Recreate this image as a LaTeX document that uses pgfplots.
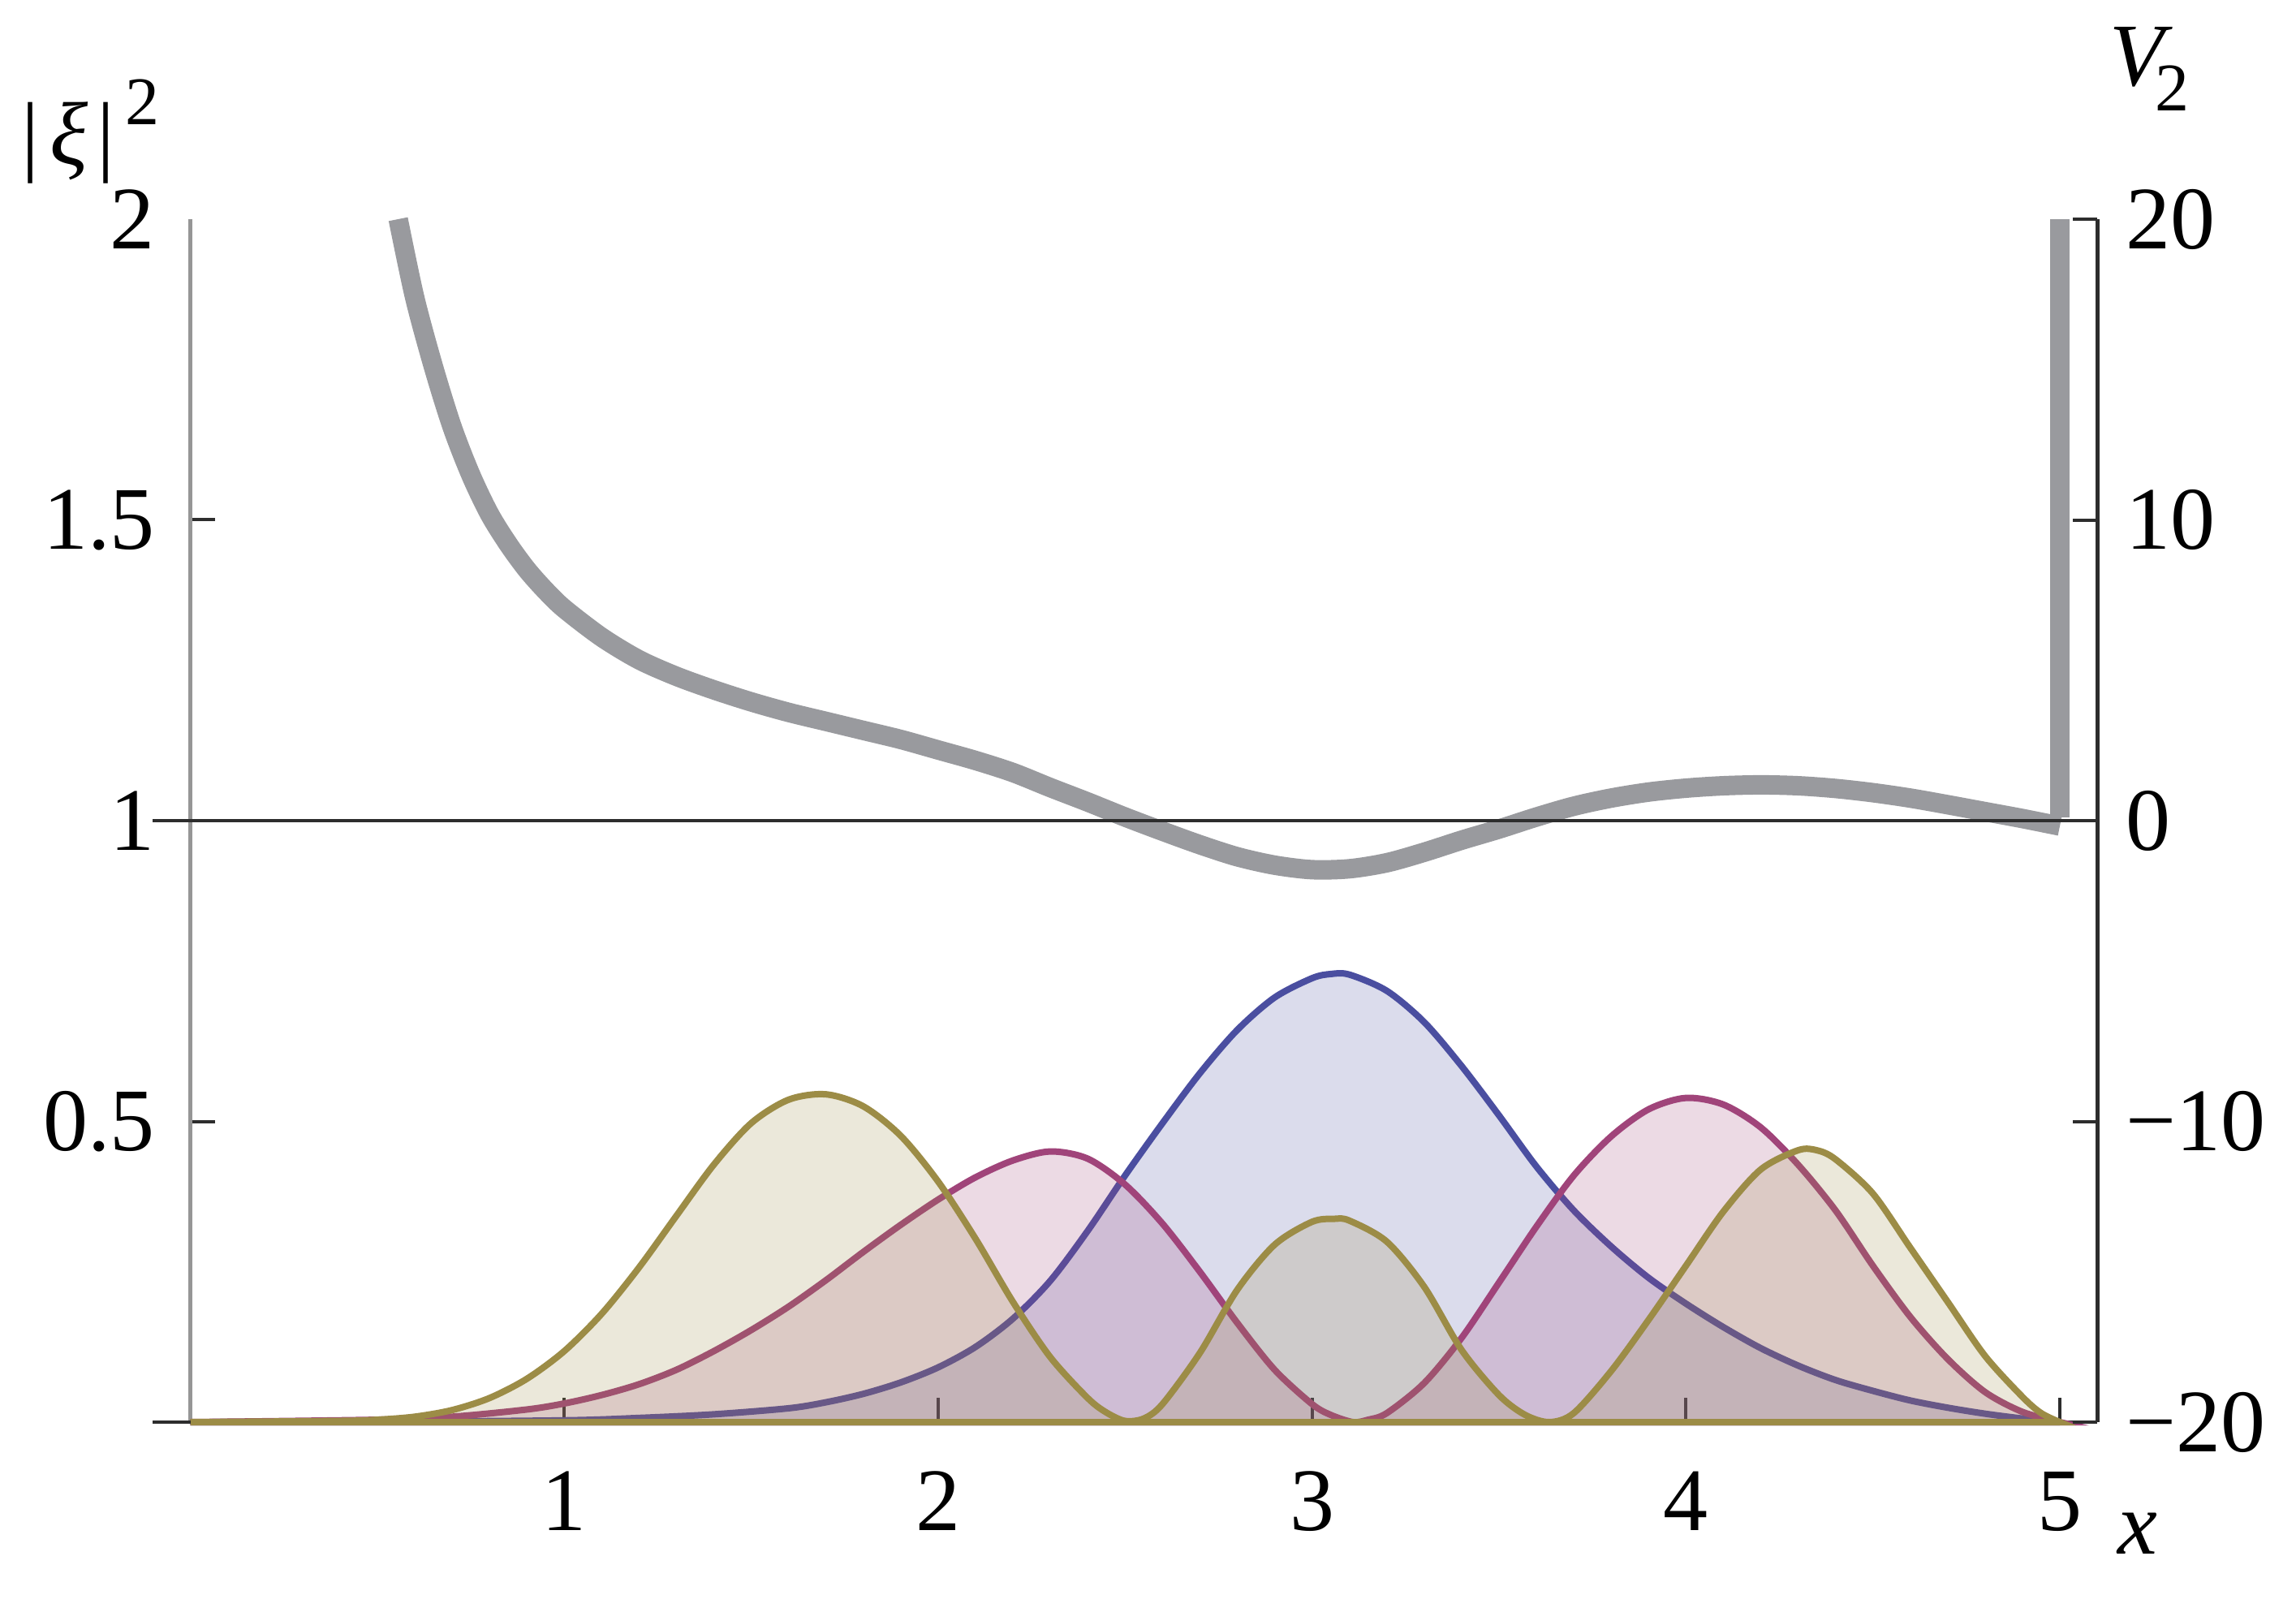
\documentclass[border=0pt]{standalone}
\usepackage{fontspec}
\setmainfont{Liberation Serif}
\usepackage{pgfplots}
\pgfplotsset{compat=1.18}

\definecolor{cblue}{RGB}{74,78,160}
\definecolor{cpink}{RGB}{160,68,122}
\definecolor{colive}{RGB}{156,140,70}
\definecolor{cpot}{RGB}{153,154,158}
\definecolor{caxis}{RGB}{45,45,45}
\definecolor{cleft}{RGB}{150,150,150}

\newcommand{\fs}{\fontsize{11}{13}\selectfont}

\begin{document}
\begin{tikzpicture}
\useasboundingbox (-23.45pt,-22.8pt) rectangle (259.45pt,175.2pt);

% left axis: densities |xi|^2
\begin{axis}[
  scale only axis, width=234.96pt, height=148.2pt,
  at={(0pt,0pt)}, anchor=south west,
  xmin=0, xmax=5.1, ymin=0, ymax=2,
  axis x line=bottom, axis y line=left,
  x axis line style={-, caxis, line width=0.45pt},
  y axis line style={-, cleft, line width=0.5pt},
  tick align=inside, major tick length=3pt,
  tick style={caxis, line width=0.4pt},
  xtick={1,2,3,4,5}, xticklabels={1,2,3,4,5},
  ytick={0.5,1,1.5}, yticklabels={0.5,1,1.5},
  extra y ticks={2}, extra y tick labels={2},
  extra y tick style={major tick length=0pt},
  tick label style={font=\fs},
  xticklabel style={anchor=base, inner sep=0pt, yshift=-13.3pt},
  yticklabel style={anchor=east, inner sep=0pt, xshift=-4.2pt},
  clip=false,
]
% ground state
\addplot[draw=cblue, fill=cblue, fill opacity=0.2, line width=0.8pt, smooth] coordinates {
  (0,0) (0.5,0.0005) (1.0,0.003) (1.2,0.007) (1.4,0.013) (1.6,0.023)
  (1.7,0.033) (1.8,0.047) (1.9,0.066) (2.0,0.091) (2.1,0.125) (2.2,0.172)
  (2.3,0.235) (2.4,0.318) (2.5,0.41) (2.6,0.497) (2.7,0.58) (2.8,0.652)
  (2.9,0.706) (3.0,0.738) (3.05,0.745) (3.1,0.744) (3.2,0.717) (3.3,0.665)
  (3.4,0.592) (3.5,0.51) (3.6,0.425) (3.7,0.352) (3.8,0.292) (3.9,0.24)
  (4.0,0.197) (4.1,0.158) (4.2,0.123) (4.3,0.094) (4.4,0.07) (4.5,0.052)
  (4.6,0.036) (4.7,0.024) (4.8,0.014) (4.9,0.006) (5.0,0)
} \closedcycle;
% first excited state
\addplot[draw=cpink, fill=cpink, fill opacity=0.2, line width=0.8pt, smooth] coordinates {
  (0,0) (0.5,0.004) (0.7,0.009) (0.9,0.021) (1.0,0.031) (1.1,0.045)
  (1.2,0.063) (1.3,0.087) (1.4,0.118) (1.5,0.153) (1.6,0.192) (1.7,0.236)
  (1.8,0.283) (1.9,0.328) (2.0,0.37) (2.1,0.407) (2.2,0.435) (2.3,0.45)
  (2.4,0.438) (2.5,0.395) (2.6,0.33) (2.7,0.25) (2.8,0.165) (2.9,0.087)
  (3.0,0.03) (3.05,0.012) (3.11,0) (3.15,0.004) (3.2,0.015) (3.3,0.065)
  (3.4,0.14) (3.5,0.232) (3.6,0.325) (3.7,0.41) (3.8,0.475) (3.9,0.52)
  (4.0,0.539) (4.1,0.528) (4.2,0.49) (4.3,0.428) (4.4,0.352) (4.5,0.26)
  (4.6,0.175) (4.7,0.105) (4.8,0.05) (4.9,0.017) (5.0,0)
} \closedcycle;
% second excited state
\addplot[draw=colive, fill=colive, fill opacity=0.2, line width=0.8pt, smooth] coordinates {
  (0,0) (0.4,0.002) (0.5,0.004) (0.6,0.009) (0.7,0.02) (0.8,0.04)
  (0.9,0.072) (1.0,0.118) (1.1,0.18) (1.2,0.257) (1.3,0.343) (1.4,0.428)
  (1.5,0.497) (1.6,0.536) (1.7,0.545) (1.8,0.525) (1.9,0.476) (2.0,0.4)
  (2.1,0.305) (2.2,0.2) (2.3,0.108) (2.4,0.04) (2.45,0.016) (2.5,0.002)
  (2.55,0.006) (2.6,0.03) (2.7,0.115) (2.8,0.22) (2.9,0.295) (3.0,0.333)
  (3.06,0.338) (3.1,0.335) (3.2,0.3) (3.3,0.225) (3.4,0.12) (3.5,0.045)
  (3.57,0.012) (3.635,0) (3.7,0.015) (3.8,0.085) (3.9,0.17) (4.0,0.26)
  (4.1,0.35) (4.2,0.42) (4.3,0.452) (4.35,0.452) (4.4,0.437) (4.5,0.38)
  (4.6,0.29) (4.7,0.2) (4.8,0.11) (4.9,0.042) (4.95,0.015) (5.0,0)
} \closedcycle;
\draw[caxis, line width=0.45pt] (axis cs:-0.1,0) -- (axis cs:0,0);
\end{axis}

% right axis: potential V_2
\begin{axis}[
  scale only axis, width=234.96pt, height=148.2pt,
  at={(0pt,0pt)}, anchor=south west,
  xmin=0, xmax=5.1, ymin=-20, ymax=20,
  axis x line=none, axis y line=right,
  y axis line style={-, caxis, line width=0.5pt},
  tick align=inside, major tick length=3pt,
  tick style={caxis, line width=0.4pt},
  ytick={-20,-10,0,10,20}, yticklabels={−20,−10,0,10,20},
  tick label style={font=\fs},
  yticklabel style={anchor=west, inner sep=0pt, xshift=3.3pt},
  clip=false,
]
\addplot[cpot, line width=2.4pt, smooth] coordinates {
  (0.556,20) (0.6,17.4) (0.65,15.1) (0.7,13.1) (0.75,11.5) (0.8,10.2)
  (0.85,9.2) (0.9,8.35) (0.95,7.65) (1.0,7.05) (1.1,6.1) (1.2,5.35)
  (1.3,4.8) (1.4,4.35) (1.5,3.95) (1.6,3.6) (1.7,3.3) (1.8,3.0)
  (1.9,2.7) (2.0,2.35) (2.1,2.0) (2.2,1.6) (2.3,1.1) (2.4,0.62)
  (2.5,0.12) (2.6,-0.35) (2.7,-0.8) (2.8,-1.2) (2.9,-1.48) (3.0,-1.63)
  (3.1,-1.6) (3.2,-1.4) (3.3,-1.05) (3.4,-0.65) (3.5,-0.28) (3.6,0.12)
  (3.7,0.48) (3.8,0.75) (3.9,0.95) (4.0,1.08) (4.1,1.16) (4.2,1.19)
  (4.3,1.16) (4.4,1.07) (4.5,0.93) (4.6,0.75) (4.7,0.53) (4.8,0.3)
  (4.9,0.07) (5.0,-0.18)
};
\addplot[cpot, line width=2.4pt] coordinates {(5.0,0.1) (5.0,20)};
\draw[caxis, line width=0.35pt] (axis cs:-0.1,0) -- (axis cs:5.1,0);
\end{axis}

\node[font=\fs, inner sep=0pt] at (-12.3pt,159pt)
  {|\kern0.12em\textit{ξ}\kern0.1em|\kern0.12em\raisebox{0.45em}{\fontsize{8.4}{9}\selectfont 2}};
\node[font=\fs, inner sep=0pt] at (241.4pt,166.7pt)
  {\textit{V}\kern-0.2em\raisebox{-0.28em}{\fontsize{8.4}{9}\selectfont 2}};
\node[font=\fs, inner sep=0pt] at (239.95pt,-13.7pt) {\textit{x}};
\end{tikzpicture}
\end{document}
